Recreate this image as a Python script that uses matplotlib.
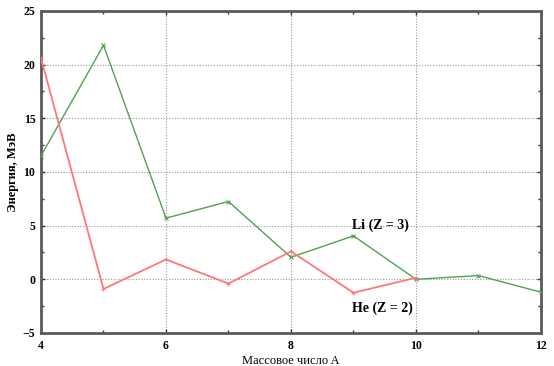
import matplotlib.pyplot as plt
from matplotlib.ticker import MultipleLocator

# He (Z = 2)
he_a = [4, 5, 6, 7, 8, 9, 10]
he_e = [20.6, -0.9, 1.85, -0.4, 2.6, -1.25, 0.15]

# Li (Z = 3)
li_a = [4, 5, 6, 7, 8, 9, 10, 11, 12]
li_e = [11.5, 21.8, 5.7, 7.25, 2.05, 4.05, 0.0, 0.35, -1.2]

plt.rcParams['font.family'] = ['Liberation Serif', 'DejaVu Serif']

fig = plt.figure(figsize=(5.54, 3.66), dpi=100)
ax = fig.add_axes([0.074, 0.0902, 0.9025, 0.8798])

ax.plot(li_a, li_e, color='#4fa34f', lw=1.0, marker='x', ms=3, mew=0.8, zorder=3)
ax.plot(he_a, he_e, color='#ff7878', lw=1.3, marker='+', ms=3, mew=0.8, zorder=4)

ax.set_xlim(4, 12)
ax.set_ylim(-5, 25)
ax.xaxis.set_major_locator(MultipleLocator(2))
ax.xaxis.set_minor_locator(MultipleLocator(1))
ax.yaxis.set_major_locator(MultipleLocator(5))
ax.yaxis.set_minor_locator(MultipleLocator(2.5))
ax.grid(True, which='major', ls=(0, (1, 1.5)), color='#999999', lw=0.8)

ax.tick_params(which='both', direction='in', top=True, right=True,
               color='#333333', labelsize=8.5)
ax.tick_params(axis='x', pad=5)
ax.tick_params(axis='y', pad=4)
ax.tick_params(which='major', length=3, width=1)
ax.tick_params(which='minor', length=2, width=1)
for lab in ax.get_xticklabels() + ax.get_yticklabels():
    lab.set_fontweight('bold')

for s in ax.spines.values():
    s.set_linewidth(2)
    s.set_color('#5a5a5a')

ax.set_xlabel('Массовое число A', fontsize=9, labelpad=2)
ax.set_ylabel('Энергия, МэВ', fontsize=9, fontweight='bold', labelpad=3)

ax.text(9.43, 5.0, 'Li (Z = 3)', fontsize=10, fontweight='bold', ha='center', va='center')
ax.text(9.47, -2.7, 'He (Z = 2)', fontsize=10, fontweight='bold', ha='center', va='center')

fig.savefig('out.png', dpi=100)
